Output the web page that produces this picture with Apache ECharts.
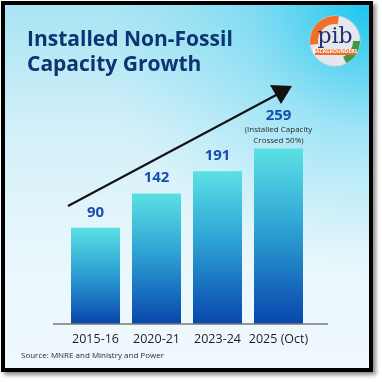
<!DOCTYPE html>
<html><head><meta charset="utf-8">
<script src="https://cdn.jsdelivr.net/npm/echarts@6/dist/echarts.min.js"></script>
<style>html,body{margin:0;padding:0;background:#fff}#c{width:382px;height:382px}</style>
</head><body><div id="c"></div>
<script>
const categories = ['2015-16', '2020-21', '2023-24', '2025 (Oct)'];
const capacity = [90, 142, 191, 259];
const noteLines = ['(Installed Capacity', 'Crossed 50%)'];
const titleLines = ['Installed Non-Fossil', 'Capacity Growth'];
const sourceText = 'Source: MNRE and Ministry and Power';

const FONT = '"Open Sans", "Noto Sans", sans-serif';
const chart = echarts.init(document.getElementById('c'), null, {renderer: 'canvas'});

const barGrad = new echarts.graphic.LinearGradient(0, 0, 0, 1, [
  {offset: 0, color: '#5be0e4'},
  {offset: 0.45, color: '#2ea3d4'},
  {offset: 1, color: '#0846ad'}
]);
const last = capacity.length - 1;
const barData = capacity.map((v, i) => i === last ? {value: v, label: {distance: 2}} : v);

chart.setOption({
  animation: false,
  grid: {left: 65, right: 73, top: 47, bottom: 58},
  xAxis: {
    type: 'category', data: categories,
    axisLine: {show: false}, axisTick: {show: false},
    axisLabel: {interval: 0, color: '#1e1e1e', fontSize: 12.5, fontWeight: 500, fontFamily: FONT, margin: 9}
  },
  yAxis: {type: 'log', logBase: 10, min: 25, max: 1000, startValue: 25, show: false, splitLine: {show: false}},
  graphic: [
    {type: 'rect', shape: {x: 1, y: 1, width: 372, height: 371}, style: {fill: '#000', shadowBlur: 4, shadowOffsetX: 3, shadowOffsetY: 3, shadowColor: 'rgba(0,0,0,0.45)'}, z: -10},
    {type: 'rect', shape: {x: 5, y: 5, width: 364, height: 363},
      style: {fill: new echarts.graphic.LinearGradient(0, 0, 0, 1, [
        {offset: 0, color: '#a9e4f3'}, {offset: 0.35, color: '#d3f0f9'}, {offset: 0.7, color: '#e9f7fc'}, {offset: 1, color: '#f0f9fd'}])}, z: -9},
    {type: 'rect', shape: {x: 5, y: 5, width: 364, height: 363},
      style: {fill: new echarts.graphic.RadialGradient(1, 0, 0.75, [
        {offset: 0, color: 'rgba(20,195,240,0.95)'}, {offset: 0.45, color: 'rgba(60,205,240,0.35)'}, {offset: 1, color: 'rgba(120,220,245,0)'}])}, z: -8},
    {type: 'text', x: 27, y: 30, style: {text: titleLines[0], fill: '#0c3470', font: 'bold 21px ' + FONT}, z: 5},
    {type: 'text', x: 27, y: 55, style: {text: titleLines[1], fill: '#0c3470', font: 'bold 21px ' + FONT}, z: 5},
    // logo
    {type: 'circle', shape: {cx: 335, cy: 41, r: 25}, style: {fill: '#e6e7ec', stroke: '#d7d9df', lineWidth: 1}, z: 5},
    {type: 'sector', shape: {cx: 335, cy: 41, r: 25, r0: 17, startAngle: Math.PI * 0.95, endAngle: Math.PI * 1.55}, style: {fill: '#f0702a'}, z: 6},
    {type: 'sector', shape: {cx: 335, cy: 41, r: 25, r0: 18, startAngle: Math.PI * 0.0, endAngle: Math.PI * 0.35}, style: {fill: '#3e9a46'}, z: 6},
    {type: 'text', x: 335, y: 37, style: {text: 'pib', fill: '#22306e', font: '22px "DejaVu Serif", serif', align: 'center', verticalAlign: 'middle'}, z: 7},
    {type: 'rect', shape: {x: 315, y: 49, width: 40, height: 6}, style: {fill: '#ee6d2c'}, z: 7},
    {type: 'text', x: 335, y: 52, style: {text: 'BACKGROUNDERS', fill: '#fff', font: 'bold 5px ' + FONT, align: 'center', verticalAlign: 'middle'}, z: 8},
    // arrow
    {type: 'line', shape: {x1: 68, y1: 206, x2: 280, y2: 93}, style: {stroke: '#111', lineWidth: 2}, z: 5},
    {type: 'polygon', shape: {points: [[292, 86], [270, 85], [281, 104]]}, style: {fill: '#111'}, z: 5},
    // axis base line
    {type: 'line', shape: {x1: 53, y1: 324, x2: 328, y2: 324}, style: {stroke: '#777', lineWidth: 1.5}, z: 5},
    {type: 'text', x: 21, y: 352, style: {text: sourceText, fill: '#2a2a2a', font: '8px ' + FONT}, z: 5}
  ],
  series: [{
    type: 'bar', data: barData, barWidth: 49, clip: true,
    itemStyle: {color: barGrad},
    label: {
      show: true, position: 'top', distance: 7,
      formatter: p => p.dataIndex === last
        ? '{v|' + p.value + '}\n{s|' + noteLines[0] + '}\n{s|' + noteLines[1] + '}'
        : '{v|' + p.value + '}',
      rich: {
        v: {color: '#1a4db0', fontSize: 15, fontWeight: 'bold', fontFamily: FONT, lineHeight: 17},
        s: {color: '#2a2a2a', fontSize: 8, fontFamily: FONT, lineHeight: 11}
      }
    }
  }]
});
</script></body></html>
